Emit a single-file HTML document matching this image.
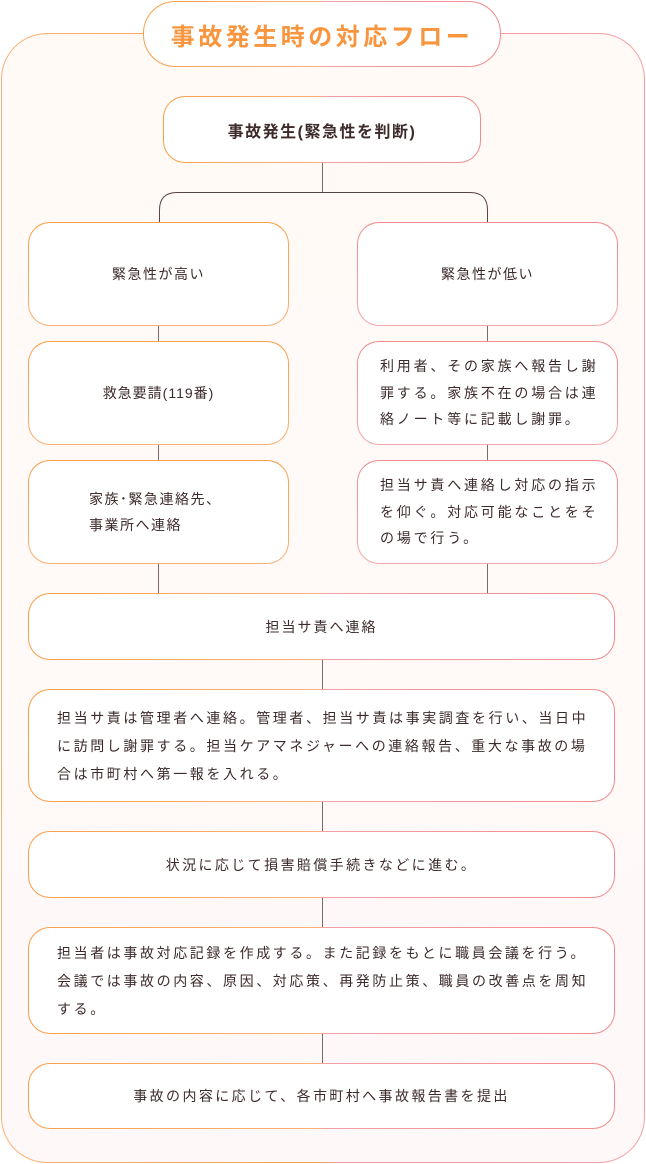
<!DOCTYPE html>
<html><head><meta charset="utf-8"><style>
*{margin:0;padding:0;box-sizing:border-box}
body{width:646px;height:1164px;background:#fff;position:relative;overflow:hidden;font-family:"Liberation Sans","Noto Sans CJK JP",sans-serif;color:#3d2b2b}
.outer{position:absolute;left:1px;top:33px;width:644px;height:1130px;border-radius:46px;border:1px solid transparent;background:linear-gradient(#fffaf6,#fff8f9) padding-box,linear-gradient(90deg,#fbb074 0%,#f9a04a 49%,#f29a9a 51%,#f5a0a8 100%) border-box}
.b{position:absolute;display:flex;align-items:center;justify-content:center;border:1px solid transparent;border-radius:22px;font-size:14px;letter-spacing:2.6px;text-align:center;background:linear-gradient(#fff,#fff) padding-box,linear-gradient(90deg,#f9a04a 0%,#fbb07a 49.5%,#f2a0a8 50.5%,#f08c8c 100%) border-box}
.o{background:linear-gradient(#fff,#fff) padding-box,linear-gradient(#f9a04a,#fbb074) border-box}
.p{background:linear-gradient(#fff,#fff) padding-box,linear-gradient(#f08c8c,#f5a8ac) border-box}
.l{text-align:left;justify-content:flex-start}
.v{position:absolute;width:1px;background:#7a6a6a}
</style></head><body>
<div class="outer"></div>
<div class="b" style="left:143px;top:1px;width:358px;height:66px;border-radius:32px;font-size:24px;font-weight:bold;color:#f7963f;letter-spacing:3.5px">事故発生時の対応フロー</div>
<div class="b" style="left:163px;top:96px;width:318px;height:67px;font-weight:bold;font-size:16px;letter-spacing:1.5px">事故発生(緊急性を判断)</div>
<div class="v" style="left:322px;top:163px;height:30px"></div>
<svg style="position:absolute;left:0;top:0" width="646" height="1164"><path d="M159.5 222 V210 Q159.5 192.5 177 192.5 H470 Q487.5 192.5 487.5 210 V222" fill="none" stroke="#5a4444" stroke-width="1"/></svg>
<div class="b o" style="left:28px;top:222px;width:261px;height:104px;letter-spacing:1.5px">緊急性が高い</div>
<div class="b p" style="left:357px;top:222px;width:261px;height:104px;letter-spacing:1.5px">緊急性が低い</div>
<div class="v" style="left:158px;top:326px;height:15px"></div>
<div class="v" style="left:487px;top:326px;height:15px"></div>
<div class="b o" style="left:28px;top:341px;width:261px;height:104px;letter-spacing:1px">救急要請(119番)</div>
<div class="b p l" style="left:357px;top:341px;width:261px;height:104px;padding-left:22px;line-height:26.5px;letter-spacing:2.8px">利用者、その家族へ報告し謝<br>罪する。家族不在の場合は連<br>絡ノート等に記載し謝罪。</div>
<div class="v" style="left:158px;top:445px;height:15px"></div>
<div class="v" style="left:487px;top:445px;height:15px"></div>
<div class="b o l" style="left:28px;top:460px;width:261px;height:104px;padding-left:60px;line-height:26px;letter-spacing:1.5px">家族･緊急連絡先、<br>事業所へ連絡</div>
<div class="b p l" style="left:357px;top:460px;width:261px;height:104px;padding-left:22px;line-height:26.5px;letter-spacing:2.8px">担当サ責へ連絡し対応の指示<br>を仰ぐ。対応可能なことをそ<br>の場で行う。</div>
<div class="v" style="left:158px;top:564px;height:30px"></div>
<div class="v" style="left:487px;top:564px;height:30px"></div>
<div class="b" style="left:28px;top:593px;width:587px;height:67px;letter-spacing:2px">担当サ責へ連絡</div>
<div class="v" style="left:322px;top:660px;height:30px"></div>
<div class="b l" style="left:28px;top:689px;width:587px;height:113px;padding-left:28px;line-height:28px;letter-spacing:2.6px">担当サ責は管理者へ連絡。管理者、担当サ責は事実調査を行い、当日中<br>に訪問し謝罪する。担当ケアマネジャーへの連絡報告、重大な事故の場<br>合は市町村へ第一報を入れる。</div>
<div class="v" style="left:322px;top:802px;height:30px"></div>
<div class="b" style="left:28px;top:831px;width:587px;height:67px;letter-spacing:2.4px">状況に応じて損害賠償手続きなどに進む。</div>
<div class="v" style="left:322px;top:898px;height:30px"></div>
<div class="b l" style="left:28px;top:927px;width:587px;height:107px;padding-left:28px;line-height:28px;letter-spacing:2.6px">担当者は事故対応記録を作成する。また記録をもとに職員会議を行う。<br>会議では事故の内容、原因、対応策、再発防止策、職員の改善点を周知<br>する。</div>
<div class="v" style="left:322px;top:1034px;height:30px"></div>
<div class="b" style="left:28px;top:1063px;width:587px;height:66px;letter-spacing:2.4px">事故の内容に応じて、各市町村へ事故報告書を提出</div>
</body></html>
